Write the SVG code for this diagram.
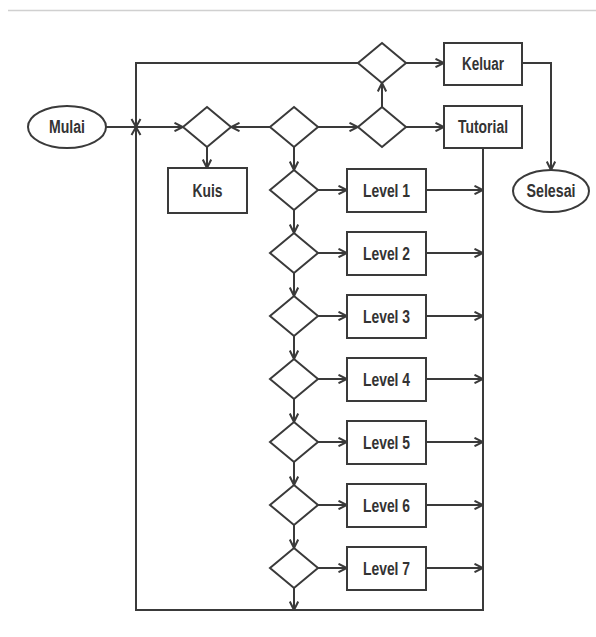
<svg xmlns="http://www.w3.org/2000/svg" width="596" height="637" viewBox="0 0 596 637">
<defs>
<marker id="ah" markerUnits="userSpaceOnUse" viewBox="0 0 10 10" refX="9.5" refY="5" markerWidth="10" markerHeight="10" orient="auto">
<path d="M1,0.8 L9.5,5 L1,9.2" fill="none" stroke="#3a3a3a" stroke-width="2"/>
</marker>
<style>
.s{fill:#fff;stroke:#3a3a3a;stroke-width:2}
.c{fill:none;stroke:#3a3a3a;stroke-width:2}
.a{marker-end:url(#ah)}
text{font-family:"Liberation Sans",Arial,sans-serif;font-weight:bold;font-size:17.5px;fill:#333;text-anchor:middle;dominant-baseline:central}
</style>
</defs>
<rect width="596" height="637" fill="#fff"/>
<line x1="8" y1="10.5" x2="596" y2="10.5" stroke="#d0d0d0" stroke-width="1.5"/>
<g id="connectors">
<path class="c" d="M106,127 L136,127"/>
<path class="c" d="M131.5,119 L136,127 L140.5,119 M131.5,135 L136,127 L140.5,135"/>
<path class="c a" d="M136,127 L183,127"/>
<path class="c a" d="M270,127 L231,127"/>
<path class="c a" d="M207,147 L207,168"/>
<path class="c a" d="M294,147 L294,170"/>
<path class="c a" d="M294,210 L294,233"/>
<path class="c a" d="M294,273 L294,296"/>
<path class="c a" d="M294,336 L294,359"/>
<path class="c a" d="M294,399 L294,422"/>
<path class="c a" d="M294,462 L294,485"/>
<path class="c a" d="M294,525 L294,548"/>
<path class="c a" d="M294,588 L294,610"/>
<path class="c a" d="M318,190 L347,190"/>
<path class="c a" d="M318,253 L347,253"/>
<path class="c a" d="M318,316 L347,316"/>
<path class="c a" d="M318,379 L347,379"/>
<path class="c a" d="M318,442 L347,442"/>
<path class="c a" d="M318,505 L347,505"/>
<path class="c a" d="M318,568 L347,568"/>
<path class="c a" d="M426,190 L483,190"/>
<path class="c a" d="M426,253 L483,253"/>
<path class="c a" d="M426,316 L483,316"/>
<path class="c a" d="M426,379 L483,379"/>
<path class="c a" d="M426,442 L483,442"/>
<path class="c a" d="M426,505 L483,505"/>
<path class="c a" d="M426,568 L483,568"/>
<path class="c" d="M483,148 L483,610 L136,610 L136,63 L358,63"/>
<path class="c a" d="M318,127 L358,127"/>
<path class="c a" d="M382,107 L382,83"/>
<path class="c a" d="M406,127 L444,127"/>
<path class="c a" d="M406,63 L444,63"/>
<path class="c a" d="M522,63 L551,63 L551,170"/>
</g>
<g id="mulai"><ellipse class="s" cx="67" cy="127" rx="39" ry="21"/><text x="67" y="127" textLength="36" lengthAdjust="spacingAndGlyphs">Mulai</text></g>
<g id="selesai"><ellipse class="s" cx="551" cy="191" rx="38" ry="21"/><text x="551" y="191" textLength="49" lengthAdjust="spacingAndGlyphs">Selesai</text></g>
<g id="d-kuis"><polygon class="s" points="207,107 231,127 207,147 183,127"/></g>
<g id="kuis"><rect class="s" x="168" y="168" width="79" height="45"/><text x="207.5" y="190.5" textLength="30" lengthAdjust="spacingAndGlyphs">Kuis</text></g>
<g id="d-main"><polygon class="s" points="294,107 318,127 294,147 270,127"/></g>
<g id="d-tutorial"><polygon class="s" points="382,107 406,127 382,147 358,127"/></g>
<g id="d-keluar"><polygon class="s" points="382,43 406,63 382,83 358,63"/></g>
<g id="keluar"><rect class="s" x="444" y="43" width="78" height="42"/><text x="483" y="64" textLength="42" lengthAdjust="spacingAndGlyphs">Keluar</text></g>
<g id="tutorial"><rect class="s" x="444" y="106" width="78" height="42"/><text x="483" y="127" textLength="50" lengthAdjust="spacingAndGlyphs">Tutorial</text></g>
<g id="d-level1"><polygon class="s" points="294,170 318,190 294,210 270,190"/></g>
<g id="d-level2"><polygon class="s" points="294,233 318,253 294,273 270,253"/></g>
<g id="d-level3"><polygon class="s" points="294,296 318,316 294,336 270,316"/></g>
<g id="d-level4"><polygon class="s" points="294,359 318,379 294,399 270,379"/></g>
<g id="d-level5"><polygon class="s" points="294,422 318,442 294,462 270,442"/></g>
<g id="d-level6"><polygon class="s" points="294,485 318,505 294,525 270,505"/></g>
<g id="d-level7"><polygon class="s" points="294,548 318,568 294,588 270,568"/></g>
<g id="level1"><rect class="s" x="347" y="169" width="79" height="43"/><text x="386.5" y="190.5" textLength="47" lengthAdjust="spacingAndGlyphs">Level 1</text></g>
<g id="level2"><rect class="s" x="347" y="232" width="79" height="43"/><text x="386.5" y="253.5" textLength="47" lengthAdjust="spacingAndGlyphs">Level 2</text></g>
<g id="level3"><rect class="s" x="347" y="295" width="79" height="43"/><text x="386.5" y="316.5" textLength="47" lengthAdjust="spacingAndGlyphs">Level 3</text></g>
<g id="level4"><rect class="s" x="347" y="358" width="79" height="43"/><text x="386.5" y="379.5" textLength="47" lengthAdjust="spacingAndGlyphs">Level 4</text></g>
<g id="level5"><rect class="s" x="347" y="421" width="79" height="43"/><text x="386.5" y="442.5" textLength="47" lengthAdjust="spacingAndGlyphs">Level 5</text></g>
<g id="level6"><rect class="s" x="347" y="484" width="79" height="43"/><text x="386.5" y="505.5" textLength="47" lengthAdjust="spacingAndGlyphs">Level 6</text></g>
<g id="level7"><rect class="s" x="347" y="547" width="79" height="43"/><text x="386.5" y="568.5" textLength="47" lengthAdjust="spacingAndGlyphs">Level 7</text></g>
</svg>
